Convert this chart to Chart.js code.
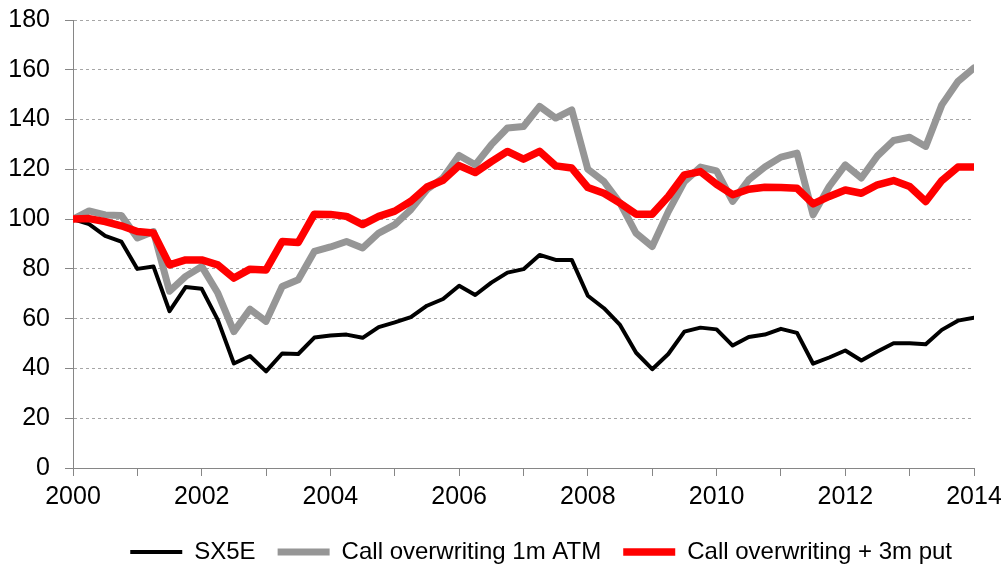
<!DOCTYPE html>
<html>
<head>
<meta charset="utf-8">
<title>SX5E vs call overwriting</title>
<script src="https://cdn.jsdelivr.net/npm/chart.js@4/dist/chart.umd.min.js"></script>
<style>
    html, body { margin: 0; padding: 0; background: #fff; }
    #chart { display: block; }
</style>
</head>
<body>
<canvas id="chart" width="1001" height="573"></canvas>
<script>
/* global Chart */

// =========================================================
// Data — quarterly, rebased to 100 at start of 2000
// =========================================================
var quarters = [
    2000, 2000.25, 2000.5, 2000.75, 2001, 2001.25, 2001.5, 2001.75,
    2002, 2002.25, 2002.5, 2002.75, 2003, 2003.25, 2003.5, 2003.75,
    2004, 2004.25, 2004.5, 2004.75, 2005, 2005.25, 2005.5, 2005.75,
    2006, 2006.25, 2006.5, 2006.75, 2007, 2007.25, 2007.5, 2007.75,
    2008, 2008.25, 2008.5, 2008.75, 2009, 2009.25, 2009.5, 2009.75,
    2010, 2010.25, 2010.5, 2010.75, 2011, 2011.25, 2011.5, 2011.75,
    2012, 2012.25, 2012.5, 2012.75, 2013, 2013.25, 2013.5, 2013.75,
    2014
];

var sx5e = [
    100, 98, 93.3, 91, 80, 81, 63, 72.7,
    72, 59.5, 42, 45, 38.8, 46, 45.8, 52.4,
    53.2, 53.6, 52.3, 56.6, 58.5, 60.6, 65.2, 67.9,
    73.2, 69.5, 74.5, 78.5, 79.9, 85.6, 83.6, 83.6,
    69.2, 64.2, 57.5, 46.3, 39.7, 45.8, 54.8, 56.4,
    55.7, 49.2, 52.6, 53.6, 55.9, 54.3, 41.9, 44.4,
    47.2, 43.2, 46.8, 50.1, 50.1, 49.7, 55.5, 59.2,
    60.4
];

var callAtm = [
    100, 103.3, 101.7, 101.5, 92.4, 95, 71, 77,
    81, 70.3, 54.8, 63.8, 58.9, 72.9, 75.6, 87,
    88.8, 91, 88.4, 94.4, 97.8, 103.8, 111.9, 116.6,
    125.6, 121.8, 129.9, 136.6, 137.2, 145.3, 140.6, 143.9,
    120, 115.1, 106.4, 94.3, 89, 103, 115.1, 120.9,
    119.4, 107.1, 115.8, 120.9, 124.9, 126.5, 101.7, 113.1,
    121.8, 116.5, 125.4, 131.6, 132.9, 129.2, 145.9, 155.3,
    160.7
];

var callPut = [
    100, 100.2, 99, 97.3, 95, 94.4, 81.6, 83.6,
    83.6, 81.6, 76.3, 79.9, 79.6, 91, 90.6, 102,
    101.9, 101.1, 97.8, 101.1, 103.2, 107.2, 112.9, 115.6,
    121.5, 118.7, 123.1, 127.2, 124.1, 127.2, 121.4, 120.5,
    112.7, 110.4, 106.4, 102, 102, 109.1, 117.8, 119.1,
    114, 109.8, 112, 112.8, 112.7, 112.4, 106.1, 109.1,
    111.7, 110.4, 113.8, 115.5, 113.1, 107.1, 115.5, 120.9,
    120.9
];

var seriesNames = ['SX5E', 'Call overwriting 1m ATM', 'Call overwriting + 3m put'];
var yTicks = [0, 20, 40, 60, 80, 100, 120, 140, 160, 180];
var xLabelYears = [2000, 2002, 2004, 2006, 2008, 2010, 2012, 2014];

// =========================================================
// Helpers
// =========================================================
function toPoints(values) {
    return values.map(function (v, i) {
        return { x: quarters[i], y: v };
    });
}

// legend uses labels.padding both between items and above/below them;
// pin its height so the row sits where the original one does
var legendHeight = {
    id: 'legendHeight',
    beforeLayout: function (chart) {
        var legend = chart.legend;
        if (!legend || legend._fixedHeight) return;
        var fit = legend.fit;
        legend.fit = function () {
            fit.call(this);
            this.height = 55;
        };
        legend._fixedHeight = true;
    },
};

(function () {
    'use strict';

    Chart.defaults.font.family = '"Liberation Sans", Arial, sans-serif';
    Chart.defaults.font.size = 24;
    Chart.defaults.color = '#000';

    var axisColor = '#868686';

    new Chart(document.getElementById('chart'), {
        type: 'line',
        data: {
            datasets: [
                {
                    label:           seriesNames[0],
                    data:            toPoints(sx5e),
                    borderColor:     '#000000',
                    backgroundColor: '#000000',
                    borderWidth:     4,
                    order:           3,
                },
                {
                    label:           seriesNames[1],
                    data:            toPoints(callAtm),
                    borderColor:     '#969696',
                    backgroundColor: '#969696',
                    borderWidth:     7,
                    order:           2,
                },
                {
                    label:           seriesNames[2],
                    data:            toPoints(callPut),
                    borderColor:     '#ff0000',
                    backgroundColor: '#ff0000',
                    borderWidth:     7.5,
                    order:           1,
                },
            ],
        },
        plugins: [legendHeight],
        options: {
            responsive: false,
            animation: false,
            layout: { padding: { top: 20, right: 0, bottom: 0, left: 0 } },
            elements: {
                point: { radius: 0, hoverRadius: 0 },
                line:  { tension: 0, borderCapStyle: 'round', borderJoinStyle: 'round' },
            },
            plugins: {
                tooltip: { enabled: false },
                legend: {
                    position: 'bottom',
                    fullSize: false,
                    align: 'end',
                    labels: {
                        usePointStyle:   true,
                        pointStyle:      'line',
                        pointStyleWidth: 52,
                        boxHeight:       6,
                        padding:         22,
                        font:            { size: 24 },
                        // keep dataset order, not draw order
                        sort: function (a, b) { return a.datasetIndex - b.datasetIndex; },
                    },
                },
            },
            scales: {
                x: {
                    type: 'linear',
                    min: 2000,
                    max: 2014,
                    afterFit: function (scale) {
                        scale.paddingLeft = 0;
                        scale.paddingRight = 27;
                        scale.height = 50;
                    },
                    ticks: {
                        stepSize: 1,
                        autoSkip: false,
                        maxRotation: 0,
                        padding: 6,
                        font: { size: 25 },
                        callback: function (v) {
                            return xLabelYears.indexOf(v) >= 0 ? String(v) : '';
                        },
                    },
                    grid: {
                        drawOnChartArea: false,
                        tickLength: 8,
                        tickColor: axisColor,
                    },
                    border: { color: axisColor, width: 1 },
                },
                y: {
                    min: yTicks[0],
                    max: yTicks[yTicks.length - 1],
                    afterBuildTicks: function (scale) {
                        scale.ticks = yTicks.map(function (v) { return { value: v }; });
                    },
                    afterFit: function (scale) {
                        scale.width = 73;
                        scale.paddingTop = 0;
                        scale.paddingBottom = 0;
                    },
                    ticks: { padding: 15, font: { size: 25 } },
                    grid: {
                        color: function (ctx) {
                            return ctx.tick && ctx.tick.value === 0 ? 'transparent' : '#a6a6a6';
                        },
                        tickLength: 8,
                        tickColor: axisColor,
                    },
                    border: { color: axisColor, width: 1, dash: [3, 3] },
                },
            },
        },
    });
}());
</script>
</body>
</html>
